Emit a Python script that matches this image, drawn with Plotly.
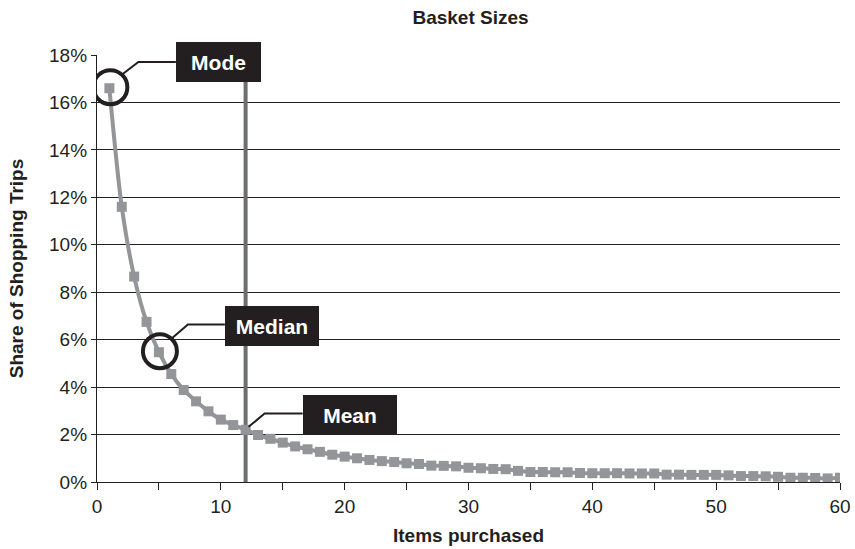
import plotly.graph_objects as go

# ---- data ----
items = list(range(1, 61))
share = [16.6, 11.6, 8.66, 6.75, 5.47, 4.55, 3.88, 3.40, 2.98, 2.63,
         2.40, 2.20, 1.98, 1.82, 1.66, 1.50, 1.38, 1.27, 1.15, 1.07,
         1.00, 0.93, 0.88, 0.84, 0.79, 0.76, 0.69, 0.68, 0.66, 0.60,
         0.58, 0.55, 0.54, 0.47, 0.42, 0.42, 0.41, 0.41, 0.38, 0.37,
         0.37, 0.37, 0.36, 0.36, 0.36, 0.31, 0.31, 0.30, 0.30, 0.30,
         0.28, 0.25, 0.25, 0.24, 0.22, 0.18, 0.18, 0.17, 0.15, 0.18]

mean_items = 12
callout_labels = ["Mode", "Median", "Mean"]
callout_x = [1, 5, 12]
circled = [True, True, False]
box_cx = [9.8, 14.12, 20.4]
box_cy = [17.71, 6.58, 2.82]
box_w = [85, 94, 94]

x_ticks = list(range(0, 61, 5))
x_ticktext = [str(v) if v % 10 == 0 else "" for v in x_ticks]
y_ticks = list(range(0, 19, 2))
y_ticktext = [f"{v}%" for v in y_ticks]

INK = "#231f20"
GREY = "#939598"
FONT = "Liberation Sans, Arial, sans-serif"

W, H = 855, 549
ML, MR, MT, MB = 97, 15, 55, 67

fig = go.Figure()

# mean vertical line
fig.add_trace(go.Scatter(x=[mean_items, mean_items], y=[0, 18], mode="lines",
                         line=dict(color="#6d6e71", width=4), hoverinfo="skip",
                         showlegend=False))

fig.add_trace(go.Scatter(x=items, y=share, mode="lines+markers",
                         line=dict(color=GREY, width=4, shape="spline", smoothing=0.8),
                         marker=dict(symbol="square", size=10, color=GREY),
                         showlegend=False))

# px -> data unit helpers
PX_X = (W - ML - MR) / 60.0
PX_Y = (H - MT - MB) / 18.0

for lab, cx, circ, bx, by, bw in zip(callout_labels, callout_x, circled, box_cx, box_cy, box_w):
    py = share[items.index(cx)]
    if circ:
        fig.add_shape(type="circle", xref="x", yref="y", xsizemode="pixel", ysizemode="pixel",
                      xanchor=cx, yanchor=py, x0=-16, x1=18, y0=-16, y1=18,
                      line=dict(color=INK, width=4), layer="above")
        sx, sy = cx + 13 / PX_X, py + 14 / PX_Y
    else:
        sx, sy = cx + 3 / PX_X, py + 3 / PX_Y
    ex, ey = sx + 16 / PX_X, by + 1.5 / PX_Y if lab != "Mode" else by
    left = bx - (bw / 2) / PX_X
    fig.add_shape(type="path", xref="x", yref="y",
                  path=f"M {sx} {sy} L {ex} {ey} L {left} {ey}",
                  line=dict(color=INK, width=2), layer="above")
    fig.add_annotation(x=bx, y=by, xref="x", yref="y", text=f"<b>{lab}</b>",
                       showarrow=False, bgcolor=INK, width=bw, height=40,
                       borderpad=0, borderwidth=0,
                       font=dict(color="white", size=21, family=FONT))

fig.update_layout(
    width=W, height=H,
    margin=dict(l=ML, r=MR, t=MT, b=MB),
    paper_bgcolor="white", plot_bgcolor="white",
    font=dict(family=FONT, color=INK),
    title=dict(text="<b>Basket Sizes</b>", x=470.5 / W, xanchor="center",
               y=1 - 17 / H, yanchor="middle", font=dict(size=19, color=INK)),
    xaxis=dict(range=[0, 60], tickvals=x_ticks, ticktext=x_ticktext,
               ticks="outside", ticklen=7, tickwidth=1.3, tickcolor=INK,
               showline=True, linecolor=INK, linewidth=1.3, showgrid=False,
               zeroline=False, tickfont=dict(size=19, color=INK), automargin=False,
               title=dict(text="<b>Items purchased</b>", font=dict(size=19, color=INK), standoff=12)),
    yaxis=dict(range=[0, 18], tickvals=y_ticks, ticktext=y_ticktext,
               ticks="outside", ticklen=5, tickwidth=1.3, tickcolor=INK,
               showline=True, linecolor=INK, linewidth=1.3,
               showgrid=True, gridcolor=INK, gridwidth=1.3, zeroline=False,
               tickfont=dict(size=19, color=INK), automargin=False,
               title=dict(text="<b>Share of Shopping Trips</b>", font=dict(size=19, color=INK), standoff=20)),
)

fig.write_html("out.html", config={"displayModeBar": False},
               post_script="document.body.style.margin='0';document.body.style.overflow='hidden';")
